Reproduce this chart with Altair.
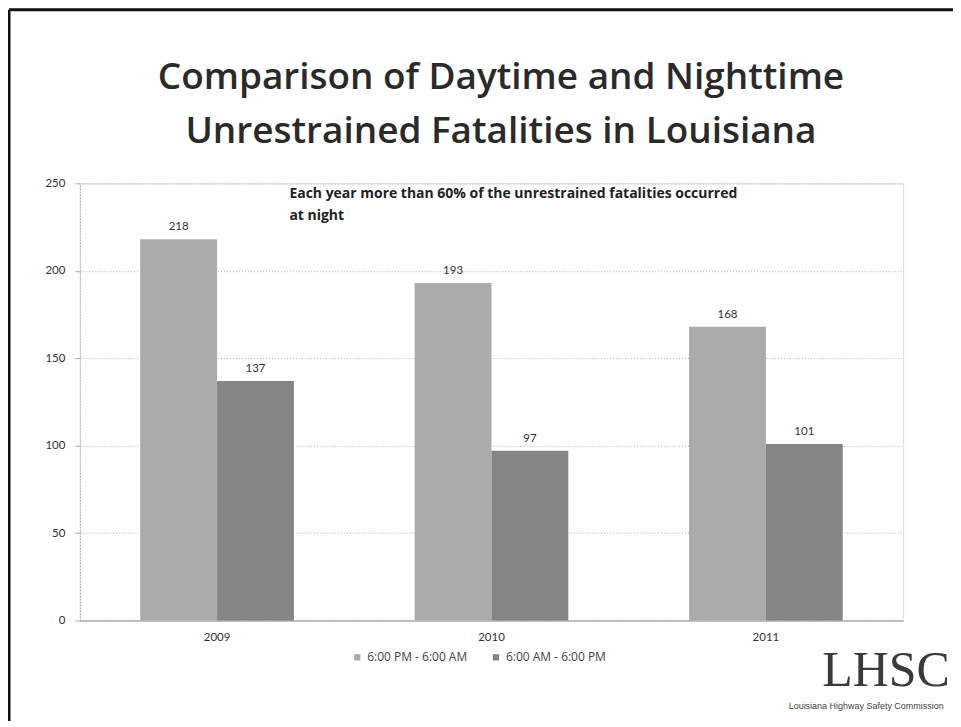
import altair as alt
import pandas as pd

years = ["2009", "2010", "2011"]
night = [218, 193, 168]
day = [137, 97, 101]
series_names = ["6:00 PM - 6:00 AM", "6:00 AM - 6:00 PM"]
title_lines = ["Comparison of Daytime and Nighttime", "Unrestrained Fatalities in Louisiana"]
note_lines = ["Each year more than 60% of the unrestrained fatalities occurred", "at night"]
logo_text = "LHSC"
logo_sub = "Louisiana Highway Safety Commission"

rows = []
for i, y in enumerate(years):
    rows.append({"year": y, "series": series_names[0], "value": night[i]})
    rows.append({"year": y, "series": series_names[1], "value": day[i]})
df = pd.DataFrame(rows)

x_enc = alt.X("year:N", title=None, sort=years,
              scale=alt.Scale(paddingInner=0.44, paddingOuter=0.22),
              axis=alt.Axis(labelAngle=0, labelFont="Lato", labelFontSize=11.5,
                            labelColor="#333333", ticks=False, domain=True,
                            domainColor="#999999", labelPadding=11))
y_enc = alt.Y("value:Q", title=None,
              scale=alt.Scale(domain=[0, 250], nice=False),
              axis=alt.Axis(values=[0, 50, 100, 150, 200, 250], labelFont="Lato",
                            labelFontSize=11.5, labelColor="#333333", ticks=True,
                            tickColor="#aaaaaa", tickSize=5, labelPadding=10,
                            grid=True, gridColor="#b0b0b0", gridDash=[1, 2],
                            domain=True, domainColor="#999999", domainDash=[1, 2]))
color_enc = alt.Color("series:N", sort=series_names,
                      scale=alt.Scale(domain=series_names, range=["#ababab", "#858585"]),
                      legend=alt.Legend(title=None, orient="none", legendX=272, legendY=469,
                                        direction="horizontal", columns=2, columnPadding=22,
                                        symbolType="square", symbolSize=40,
                                        labelFont="Open Sans", labelFontSize=12,
                                        labelColor="#444444", symbolStrokeWidth=0))

base = alt.Chart(df).encode(
    x=x_enc,
    xOffset=alt.XOffset("series:N", sort=series_names),
)

bars = base.mark_bar().encode(y=y_enc, color=color_enc)
labels = base.mark_text(baseline="bottom", dy=-7, font="Lato", fontSize=11.5, color="#333333").encode(
    y="value:Q", text="value:Q"
)

title = alt.Chart(pd.DataFrame({"t": [title_lines]})).mark_text(
    align="center", baseline="middle", font="Open Sans", fontWeight=600, fontSize=37,
    color="#2a2a2a", lineHeight=55
).encode(x=alt.value(422), y=alt.value(-106), text="t")

note = alt.Chart(pd.DataFrame({"t": [note_lines]})).mark_text(
    align="left", baseline="top", font="Open Sans", fontWeight="bold", fontSize=14,
    color="#222222", lineHeight=22
).encode(x=alt.value(210), y=alt.value(4), text="t")

logo = alt.Chart(pd.DataFrame({"t": [logo_text]})).mark_text(
    align="left", baseline="alphabetic", font="Liberation Serif", fontSize=50,
    color="#3a3a3a"
).encode(x=alt.value(744), y=alt.value(504), text="t")

logo2 = alt.Chart(pd.DataFrame({"t": [logo_sub]})).mark_text(
    align="center", baseline="middle", font="Liberation Sans", fontSize=9,
    color="#444444"
).encode(x=alt.value(788), y=alt.value(524), text="t")

frame_top = alt.Chart(pd.DataFrame({"a": [0]})).mark_rule(color="#111111", strokeWidth=3).encode(
    x=alt.value(-71), x2=alt.value(890), y=alt.value(-174)
)
frame_left = alt.Chart(pd.DataFrame({"a": [0]})).mark_rule(color="#111111", strokeWidth=3).encode(
    x=alt.value(-71), y=alt.value(-174), y2=alt.value(560)
)

chart = alt.layer(bars, labels, title, note, logo, logo2, frame_top, frame_left).properties(
    width=825, height=438,
    autosize=alt.AutoSizeParams(type="none"),
    padding={"left": 72, "top": 175, "right": 50, "bottom": 100},
).configure_view(stroke=None).configure(background="white")

chart.save("out.html", embed_options={"renderer": "svg", "actions": False})
